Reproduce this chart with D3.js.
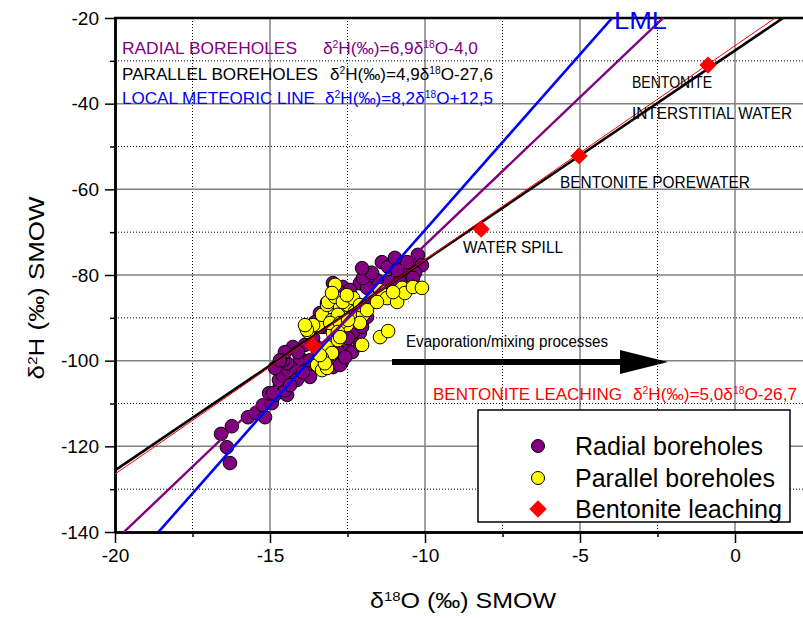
<!DOCTYPE html>
<html><head><meta charset="utf-8">
<script src="https://cdn.jsdelivr.net/npm/d3@7"></script>
<style>
body{margin:0;background:#fff;}
svg{display:block;font-family:"Liberation Sans",Arial,sans-serif;}
</style></head><body>
<svg id="chart" width="803" height="618"></svg>
<script>
// ---------- data ----------
const xMajorTicks = [-20, -15, -10, -5, 0];
const xMinorTicks = [-17.5, -12.5, -7.5, -2.5];
const yMajorTicks = [-140, -120, -100, -80, -60, -40, -20];
const yMinorTicks = [-130, -110, -90, -70, -50, -30];

// Radial boreholes: [δ18O, δ2H]
const radialPoints = [
 [-16.29,-123.9],[-16.39,-120.2],[-16.58,-117.1],[-16.23,-115.3],[-15.71,-113.2],[-15.45,-112.2],
 [-15.16,-113.2],[-15.23,-110.4],[-14.94,-109.9],[-14.84,-108.0],[-15.03,-107.6],[-14.68,-105.7],
 [-14.45,-108.0],[-14.52,-106.9],[-14.71,-104.5],[-14.58,-103.4],[-14.29,-104.5],[-14.42,-102.2],
 [-14.19,-101.5],[-14.03,-102.9],[-13.94,-100.6],[-14.45,-100.6],[-14.58,-99.9],[-13.71,-102.2],
 [-14.84,-101.7],[-14.26,-96.8],[-14.52,-98.0],[-14.68,-99.9],[-14.03,-99.4],[-13.71,-103.8],
 [-14.13,-104.5],[-14.35,-105.7],[-14.90,-107.6],[-13.94,-102.7],[-13.61,-94.7],[-13.71,-99.9],
 [-12.58,-95.9],[-12.35,-98.0],[-12.10,-96.3],[-12.68,-100.3],[-12.97,-101.5],[-12.65,-93.5],
 [-12.10,-93.5],[-13.29,-92.1],[-13.16,-86.5],[-13.39,-88.9],[-13.55,-91.0],[-13.39,-92.1],
 [-12.32,-93.3],[-12.03,-92.1],[-11.87,-89.8],[-12.16,-88.6],[-11.39,-77.0],[-11.19,-78.1],
 [-10.23,-75.3],[-10.48,-77.2],[-10.10,-77.7],[-10.65,-79.3],[-10.90,-80.5],[-10.32,-79.5],
 [-11.77,-79.5],[-11.55,-81.2],[-11.84,-80.5],[-12.10,-81.9],[-12.97,-81.9],[-12.65,-82.8],
 [-12.42,-83.5],[-12.74,-84.2],[-11.87,-83.0],[-11.35,-82.8],[-11.13,-81.6],[-10.81,-81.6],
 [-11.45,-84.7],[-11.68,-86.3],[-10.39,-80.7],[-10.58,-77.0],[-10.90,-78.8],[-12.00,-80.7],
 [-11.71,-79.5],[-10.97,-76.0],[-12.26,-90.5],[-12.48,-94.7],[-12.84,-97.5],[-13.23,-98.7],
 [-13.45,-97.0],[-13.87,-96.3],[-14.10,-98.0],[-12.74,-101.0],[-12.58,-99.2],[-12.03,-78.4]
];

// Parallel boreholes: [δ18O, δ2H]
const parallelPoints = [
 [-13.77,-93.3],[-13.45,-91.7],[-13.32,-89.3],[-13.00,-90.5],[-12.97,-93.5],[-13.16,-87.0],
 [-12.74,-87.5],[-12.81,-89.3],[-12.48,-87.0],[-12.26,-88.6],[-13.16,-96.8],[-13.00,-98.2],
 [-13.32,-99.4],[-13.48,-101.0],[-13.32,-102.2],[-13.16,-101.7],[-12.81,-95.2],[-12.00,-89.3],
 [-12.10,-91.2],[-12.52,-91.7],[-13.13,-86.3],[-12.90,-85.1],[-12.65,-86.3],[-12.32,-85.4],
 [-12.10,-87.0],[-11.87,-88.2],[-11.45,-83.5],[-11.23,-85.4],[-10.90,-86.3],[-10.74,-83.0],
 [-10.65,-84.2],[-10.39,-82.8],[-10.10,-83.0],[-11.03,-84.0],[-13.61,-91.7],[-13.81,-92.8],
 [-13.06,-91.2],[-12.74,-91.2],[-12.48,-90.5],[-12.81,-93.3],[-11.45,-94.5],[-11.19,-93.1],
 [-11.55,-86.3],[-12.90,-82.3],[-13.00,-84.2],[-12.52,-84.7],[-12.03,-96.3],[-13.87,-91.7],
 [-13.23,-100.6],[-12.74,-94.5],[-13.39,-98.7]
];

// Bentonite leaching: [δ18O, δ2H]
const bentonitePoints = [[-13.61,-96.5],[-8.19,-69.3],[-5.03,-52.2],[-0.87,-31.0]];

// Regression / meteoric lines: δ2H = slope*δ18O + intercept
const lineNames = ["Local meteoric line", "Radial boreholes", "Parallel boreholes", "Bentonite leaching"];
const lineSlopes = [8.2, 6.9, 4.9, 5.0];
const lineIntercepts = [12.5, -4.0, -27.6, -26.7];

const legendLabels = ["Radial boreholes", "Parallel boreholes", "Bentonite leaching"];

// ---------- drawing ----------
const svg = d3.select("#chart");
const X0 = 115, X1 = 803.2, Y0 = 18, Y1 = 532;
const x = d3.scaleLinear().domain([-20, 2.2]).range([X0, X1]);
const y = d3.scaleLinear().domain([-140, -20]).range([Y1, Y0]);

const PURPLE = "#800080", BLUE = "#0000ff", RED = "#ff0000", YELLOW = "#ffff00";
const R = 6.8;

svg.append("defs").append("clipPath").attr("id","plotclip")
  .append("rect").attr("x", X0).attr("y", Y0).attr("width", X1 - X0).attr("height", Y1 - Y0);

// grid
const grid = svg.append("g");
grid.selectAll(".vmaj").data(xMajorTicks.filter(d => d > -20)).join("line")
  .attr("x1", d => x(d)).attr("x2", d => x(d)).attr("y1", Y0).attr("y2", Y1)
  .attr("stroke", "#808080").attr("stroke-width", 1.5);
grid.selectAll(".vmin").data(xMinorTicks).join("line")
  .attr("x1", d => x(d)).attr("x2", d => x(d)).attr("y1", Y0).attr("y2", Y1)
  .attr("stroke", "#000").attr("stroke-width", 1).attr("stroke-dasharray", "1,2");
grid.selectAll(".hmaj").data(yMajorTicks.filter(d => d > -140 && d < -20)).join("line")
  .attr("y1", d => y(d)).attr("y2", d => y(d)).attr("x1", X0).attr("x2", X1)
  .attr("stroke", "#808080").attr("stroke-width", 1.5);
grid.selectAll(".hmin").data(yMinorTicks).join("line")
  .attr("y1", d => y(d)).attr("y2", d => y(d)).attr("x1", X0).attr("x2", X1)
  .attr("stroke", "#000").attr("stroke-width", 1).attr("stroke-dasharray", "1,2");

// axes
const fmt = d => String(d);
const xAxis = svg.append("g").attr("transform", `translate(0,${Y1})`)
  .call(d3.axisBottom(x).tickValues(xMajorTicks).tickSize(11).tickSizeOuter(0).tickPadding(6).tickFormat(fmt));
const xAxisMinor = svg.append("g").attr("transform", `translate(0,${Y1})`)
  .call(d3.axisBottom(x).tickValues(xMinorTicks).tickSize(5).tickSizeOuter(0).tickFormat(""));
const yAxis = svg.append("g").attr("transform", `translate(${X0},0)`)
  .call(d3.axisLeft(y).tickValues(yMajorTicks).tickSize(10).tickSizeOuter(0).tickPadding(6).tickFormat(fmt));
const yAxisMinor = svg.append("g").attr("transform", `translate(${X0},0)`)
  .call(d3.axisLeft(y).tickValues(yMinorTicks).tickSize(5).tickSizeOuter(0).tickFormat(""));
[xAxis, xAxisMinor, yAxis, yAxisMinor].forEach(g => {
  g.select(".domain").attr("stroke", "#000").attr("stroke-width", 2.5);
  g.selectAll(".tick line").attr("stroke", "#000").attr("stroke-width", 1.5);
  g.selectAll(".tick text").attr("font-size", 19).attr("fill", "#000")
    .attr("font-family", '"Liberation Sans",Arial,sans-serif');
});
// top border
svg.append("line").attr("x1", X0 - 1).attr("x2", X1).attr("y1", Y0).attr("y2", Y0)
  .attr("stroke", "#000").attr("stroke-width", 2.5);

// points
const plot = svg.append("g").attr("clip-path", "url(#plotclip)");
plot.selectAll(".radial").data(radialPoints).join("circle")
  .attr("cx", d => x(d[0])).attr("cy", d => y(d[1])).attr("r", R)
  .attr("fill", PURPLE).attr("stroke", "#000").attr("stroke-width", 1);
plot.selectAll(".parallel").data(parallelPoints).join("circle")
  .attr("cx", d => x(d[0])).attr("cy", d => y(d[1])).attr("r", R)
  .attr("fill", YELLOW).attr("stroke", "#000").attr("stroke-width", 1);

// lines
const lineColors = [BLUE, PURPLE, "#000", RED];
const lineWidths = [2.6, 2.4, 2.6, 1];
const lineOffsets = [0, 0, 0, -1];
const xs = [-20, 2.2];
lineSlopes.forEach((m, i) => {
  plot.append("line")
    .attr("x1", x(xs[0])).attr("y1", y(m * xs[0] + lineIntercepts[i]) + lineOffsets[i])
    .attr("x2", x(xs[1])).attr("y2", y(m * xs[1] + lineIntercepts[i]) + lineOffsets[i])
    .attr("stroke", lineColors[i]).attr("stroke-width", lineWidths[i]);
});

// diamonds
const diamond = d3.symbol().type(d3.symbolSquare).size(150);
plot.selectAll(".bent").data(bentonitePoints).join("path")
  .attr("d", diamond)
  .attr("transform", d => `translate(${x(d[0])},${y(d[1])}) rotate(45)`)
  .attr("fill", RED);

// rich text helper (^NN = superscript)
function rich(g, str, size) {
  const parts = str.split(/(\^\d+)/).filter(s => s.length);
  let sup = false;
  parts.forEach(p => {
    if (p[0] === "^") {
      g.append("tspan").attr("font-size", size * 0.6).attr("dy", -size * 0.33).text(p.slice(1));
      sup = true;
    } else {
      const t = g.append("tspan").text(p);
      if (sup) t.attr("dy", size * 0.33);
      sup = false;
    }
  });
  return g;
}
function label(px, py, str, size, color, width, anchor) {
  const t = svg.append("text").attr("x", px).attr("y", py).attr("font-size", size)
    .attr("fill", color).attr("text-anchor", anchor || "start");
  rich(t, str, size);
  if (width) t.attr("textLength", width).attr("lengthAdjust", "spacingAndGlyphs");
  return t;
}

// top-left equations
label(122, 54, "RADIAL BOREHOLES", 17, PURPLE, 175);
label(323, 54, "δ^2H(‰)=6,9δ^18O-4,0", 17, PURPLE, 155);
label(122, 80, "PARALLEL BOREHOLES", 17, "#000", 196);
label(330, 80, "δ^2H(‰)=4,9δ^18O-27,6", 17, "#000", 163);
label(122, 104, "LOCAL METEORIC LINE", 17, BLUE, 193);
label(325, 104, "δ^2H(‰)=8,2δ^18O+12,5", 17, BLUE, 168);

// LML tag
label(614, 29, "LML", 24, BLUE, 53);

// point labels
label(632, 88, "BENTONITE", 16.5, "#000", 80);
label(632, 119, "INTERSTITIAL WATER", 16.5, "#000", 160);
label(560, 188, "BENTONITE POREWATER", 16.5, "#000", 190);
label(463, 253, "WATER SPILL", 16.5, "#000", 100);

// evaporation arrow
label(406, 347, "Evaporation/mixing processes", 16, "#000", 202);
svg.append("line").attr("x1", 392).attr("x2", 624).attr("y1", 362).attr("y2", 362)
  .attr("stroke", "#000").attr("stroke-width", 6);
svg.append("path").attr("d", "M620,350 L668,362 L620,374 Z").attr("fill", "#000");

// bentonite leaching eq
label(433, 400, "BENTONITE LEACHING", 17, RED, 189);
label(633, 400, "δ^2H(‰)=5,0δ^18O-26,7", 17, RED, 164);

// legend
const lg = svg.append("g");
lg.append("rect").attr("x", 478).attr("y", 410).attr("width", 312).attr("height", 112)
  .attr("fill", "#fff").attr("stroke", "#000").attr("stroke-width", 1.5);
const legendY = [446, 478, 509];
lg.append("circle").attr("cx", 538).attr("cy", legendY[0]).attr("r", 6.5)
  .attr("fill", PURPLE).attr("stroke", "#000");
lg.append("circle").attr("cx", 538).attr("cy", legendY[1]).attr("r", 6.5)
  .attr("fill", YELLOW).attr("stroke", "#000");
lg.append("path").attr("d", diamond).attr("transform", `translate(538,${legendY[2]}) rotate(45)`)
  .attr("fill", RED);
const legendW = [188, 200, 207];
legendLabels.forEach((s, i) => {
  lg.append("text").attr("x", 575).attr("y", legendY[i] + 9).attr("font-size", 25)
    .attr("textLength", legendW[i]).attr("lengthAdjust", "spacingAndGlyphs").text(s);
});

// axis titles
label(463, 608, "δ^18O (‰) SMOW", 22, "#000", 186, "middle");
const yt = svg.append("text").attr("transform", "translate(44,288) rotate(-90)")
  .attr("font-size", 22).attr("text-anchor", "middle")
  .attr("textLength", 183).attr("lengthAdjust", "spacingAndGlyphs");
rich(yt, "δ^2H (‰) SMOW", 22);
</script>
</body></html>
